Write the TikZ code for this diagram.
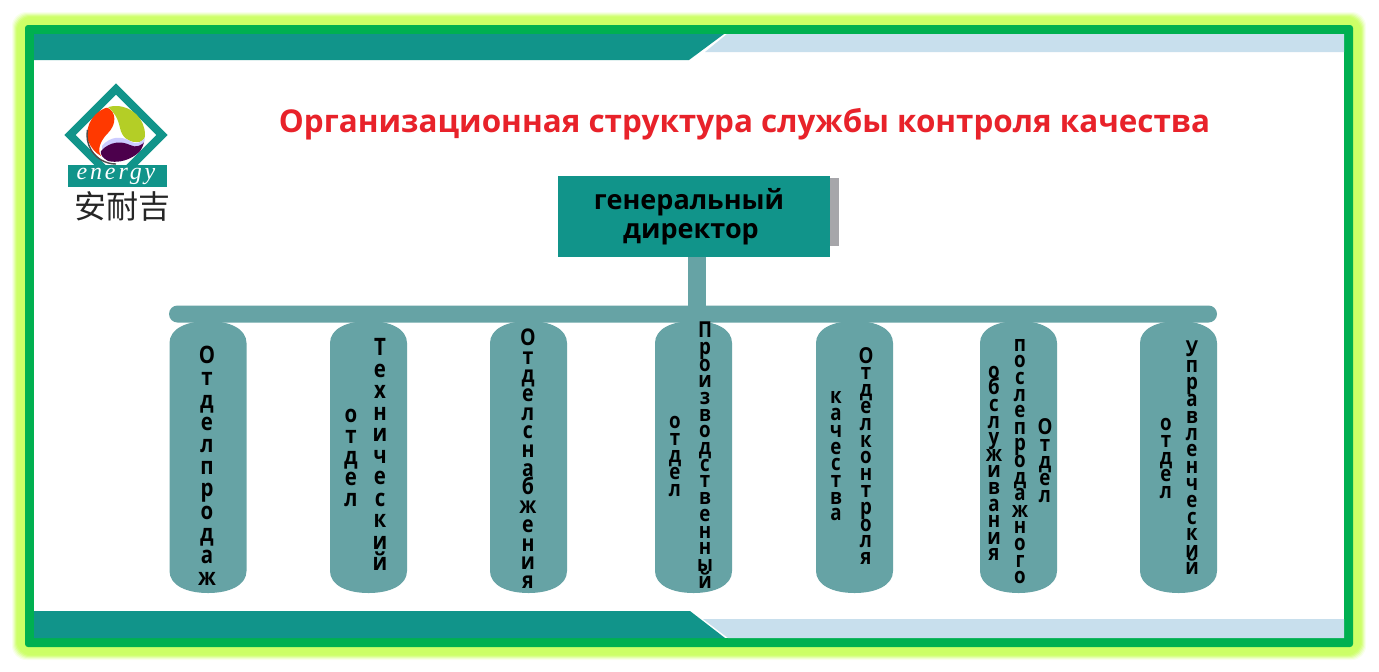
\documentclass[tikz,border=0pt]{standalone}
\usepackage{fontspec}
\setmainfont{Open Sans}
\newfontfamily\schmal[FakeStretch=0.85]{Open Sans}
\newfontfamily\cjk{Noto Sans CJK SC}
\newfontfamily\logofont[LetterSpace=12]{Liberation Serif}
\usetikzlibrary{shapes.misc}
\definecolor{glow}{RGB}{204,255,102}
\definecolor{rahmen}{RGB}{0,176,80}
\definecolor{petrol}{RGB}{17,148,138}
\definecolor{hellblau}{RGB}{200,223,237}
\definecolor{saeule}{RGB}{102,163,165}
\definecolor{schatten}{RGB}{166,166,170}
\definecolor{titelrot}{RGB}{232,34,42}
\lineskiplimit=-20pt
\normallineskiplimit=-20pt
\tikzset{
  stack/.style 2 args={font=\schmal\bfseries\fontsize{#1}{#2}\selectfont, align=center, inner sep=0pt, text=black},
  busbar/.style={rounded rectangle, fill=saeule, minimum width=524pt, minimum height=8.5pt, inner sep=0pt, outer sep=0pt},
}
\begin{document}
\begin{tikzpicture}[x=0.5pt,y=-0.5pt]
    \useasboundingbox (0,0) rectangle (1379,671);

    % frame with glow
    \foreach \d/\o in {13/0.12, 12/0.2, 11/0.3, 10/0.45, 9/0.65, 8/0.85, 6/1}
        \fill[glow, opacity=\o, rounded corners=7pt] (25-\d,25-\d) rectangle (1353+\d,647+\d);
    \fill[rahmen, rounded corners=1.5pt] (25,25) rectangle (1353,647);
    \fill[white] (34,34) rectangle (1344,638);

    % bands at top and bottom
    \fill[petrol] (34,34) -- (724,34) -- (689,60) -- (34,60) -- cycle;
    \fill[hellblau] (727,34) -- (1344,34) -- (1344,52) -- (705,52) -- cycle;
    \fill[petrol] (34,611) -- (690,611) -- (725,638) -- (34,638) -- cycle;
    \fill[hellblau] (703,619) -- (1344,619) -- (1344,638) -- (728,638) -- cycle;

    % logo
    \draw[petrol, line width=4pt, miter limit=10] (116,89) -- (162,135) -- (116,181) -- (70,135) -- cycle;
    \begin{scope}
        \clip (116,135) circle (29);
        \fill[orange!45!red] (108,108) .. controls (116,112) and (117,124) .. (108,133) .. controls (100,141) and (97,150) .. (101,156) .. controls (90,150) and (83,135) .. (88,122) .. controls (92,112) and (102,106) .. (108,108) -- cycle;
        \fill[yellow!75!green!90!black] (108,107) .. controls (120,103) and (140,106) .. (146,130) .. controls (146,140) and (141,143) .. (136,142) .. controls (128,142) and (122,137) .. (120,128) .. controls (118,118) and (114,112) .. (108,107) -- cycle;
        \fill[blue!20!white] (102,146) .. controls (110,136) and (122,136) .. (130,141) .. controls (136,145) and (142,143) .. (146,136) -- (146,145) -- (102,150) -- cycle;
        \fill[blue!50!red!60!black] (101,151) .. controls (110,141) and (122,141) .. (130,145) .. controls (136,148) and (142,146) .. (146,140) .. controls (144,153) and (125,165) .. (108,161) .. controls (103,158) and (100,155) .. (101,151) -- cycle;
    \end{scope}
    \draw[black!70, line width=0.7pt] (116,164) arc (90:190:29);
    \fill[petrol] (68,165) rectangle (167,187);
    \node[text=white, font=\logofont\itshape\fontsize{12}{12}\selectfont, inner sep=0pt] (energy) at (116,176) {energy};
    \node[text=black!85, font=\cjk\fontsize{16}{16}\selectfont, inner sep=0pt] (marke) at (122,206) {安耐吉};

    % title
    \node[text=titelrot, font=\bfseries\fontsize{15.7}{18}\selectfont, inner sep=0pt] (titel) at (744.5,124) {Организационная структура службы контроля качества};

    % top box
    \fill[schatten] (825,178) rectangle (839,246);
    \node[fill=petrol, minimum width=136pt, minimum height=40.5pt, inner sep=0pt, outer sep=0pt,
          font=\bfseries\fontsize{13.5}{14.5}\selectfont, align=center] (chef) at (694,216.5) {генеральный\kern5pt\\директор\kern3pt};

    % bus and pillars
    \node[busbar] (bus) at (693,314) {};
    \coordinate (stiel) at (697,257);
    \draw[saeule, line width=9pt] (stiel) -- (stiel |- bus.center);

    \foreach \cx in {208, 368.5, 528.5, 693.5, 854.5, 1018.5, 1178.5}
        \fill[saeule] (\cx-38.5,343) .. controls (\cx-38.5,329) and (\cx-22,321) .. (\cx,321)
            .. controls (\cx+22,321) and (\cx+38.5,329) .. (\cx+38.5,343) -- (\cx+38.5,571)
            .. controls (\cx+38.5,585) and (\cx+22,593) .. (\cx,593)
            .. controls (\cx-22,593) and (\cx-38.5,585) .. (\cx-38.5,571) -- cycle;

    % vertical words
    \node[stack={12}{11.1}] (t1) at (207,466) {О\\т\\д\\е\\л\\п\\р\\о\\д\\а\\ж};
    \node[stack={12}{10.5}] (t2a) at (351,457.5) {о\\т\\д\\е\\л};
    \node[stack={12}{10.75}] (t2b) at (380,454.5) {Т\\е\\х\\н\\и\\ч\\е\\с\\к\\и\\й};
    \node[stack={11.5}{9.35}] (t3) at (528,458.5) {О\\т\\д\\е\\л\\с\\н\\а\\б\\ж\\е\\н\\и\\я};
    \node[stack={11}{8.4}] (t4a) at (675,456.5) {о\\т\\д\\е\\л};
    \node[stack={11}{8.35}] (t4b) at (705,455) {П\\р\\о\\и\\з\\в\\о\\д\\с\\т\\в\\е\\н\\н\\ы\\й};
    \node[stack={11}{8.35}] (t5a) at (836,456.5) {к\\а\\ч\\е\\с\\т\\в\\а};
    \node[stack={11}{8.4}] (t5b) at (866,456) {О\\т\\д\\е\\л\\к\\о\\н\\т\\р\\о\\л\\я};
    \node[stack={11}{8.3}] (t6a) at (994,463.5) {о\\б\\с\\л\\у\\ж\\и\\в\\а\\н\\и\\я};
    \node[stack={11}{8.3}] (t6b) at (1020,461.5) {п\\о\\с\\л\\е\\п\\р\\о\\д\\а\\ж\\н\\о\\г\\о};
    \node[stack={11}{8.5}] (t6c) at (1045,461) {О\\т\\д\\е\\л};
    \node[stack={11}{8.4}] (t7a) at (1166,458.5) {о\\т\\д\\е\\л};
    \node[stack={11}{8.4}] (t7b) at (1192,457.5) {У\\п\\р\\а\\в\\л\\е\\н\\ч\\е\\с\\к\\и\\й};
\end{tikzpicture}
\end{document}
